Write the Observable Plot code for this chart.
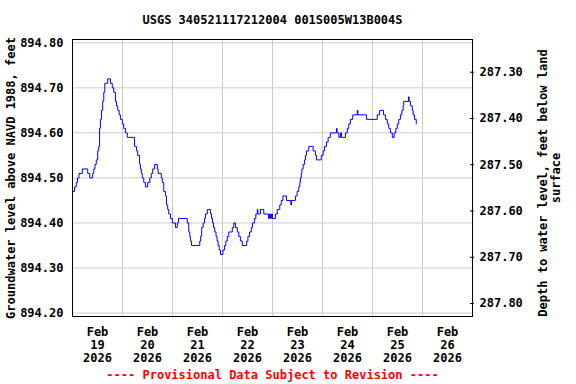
<!DOCTYPE html>
<html>
<head>
<meta charset="utf-8">
<script src="https://cdn.jsdelivr.net/npm/d3@7"></script>
<script src="https://cdn.jsdelivr.net/npm/@observablehq/plot@0.6"></script>
<style>
  html, body { margin: 0; padding: 0; background: #fff; }
  #chart svg { display: block; }
</style>
</head>
<body>
<div id="chart"></div>
<script>
// ---- Data (hours after 2026-02-19 00:00, groundwater level in ft above NAVD 1988) ----
const hours = [
  0, 1.0, 1.8, 2.4, 3.1, 4.7, 7.3, 8.3, 9.7, 10.2, 10.8, 11.4, 12.1, 12.6, 13.0, 13.4, 13.9, 14.5, 15.0, 15.5, 16.9,
  18.2, 19.1, 19.8, 20.6, 21.1, 21.7, 22.4, 23.0, 23.9, 24.6, 25.4, 26.3, 29.8, 30.7, 31.3, 32.2, 32.6, 33.0,
  33.5, 34.2, 35.0, 36.1, 37.1, 37.8, 38.5, 39.4, 40.7, 41.1, 42.6, 43.1, 43.8, 44.6, 45.1, 45.7, 46.2, 47.0,
  47.9, 49.4, 50.3, 50.9, 55.1, 55.8, 56.3, 56.6, 57.1, 61.1, 61.5, 62.0, 62.7, 63.4, 63.8, 64.7, 66.2, 66.7,
  67.2, 67.7, 68.3, 68.9, 69.4, 69.9, 70.4, 71.0, 72.2, 73.0, 73.6, 74.3, 75.0, 76.7, 77.4, 78.2, 79.1, 79.8,
  80.6, 81.5, 83.6, 84.2, 85.0, 85.8, 86.4, 87.4, 88.0, 88.7, 89.0, 90.2, 91.8, 94.1, 94.5, 95.0, 95.5, 96.0,
  97.4, 98.3, 99.5, 100.2, 101.0, 102.7, 104.8, 105.1, 107.0, 107.8, 108.6, 109.1, 109.4, 109.8, 110.1, 110.7,
  111.4, 111.8, 112.3, 113.4, 115.5, 116.6, 117.1, 119.4, 120.3, 121.0, 121.9, 122.7, 123.8, 126.7, 127.0,
  127.8, 128.6, 129.1, 131.0, 131.9, 132.6, 133.4, 134.5, 136.7, 137.0, 141.1, 146.3, 147.4, 149.3, 150.2,
  151.1, 151.8, 152.6, 153.5, 154.4, 155.2, 155.9, 156.6, 157.4, 158.1, 158.7, 159.0, 161.3, 161.6, 162.2,
  163.1, 163.5, 164.2, 165.0
];
const levels = [
  894.47, 894.48, 894.49, 894.50, 894.51, 894.52, 894.51, 894.50, 894.51, 894.52, 894.53, 894.54, 894.56, 894.57, 894.61, 894.63, 894.65, 894.67, 894.69, 894.71, 894.72,
  894.71, 894.70, 894.69, 894.67, 894.66, 894.65, 894.64, 894.63, 894.62, 894.61, 894.60, 894.59, 894.57, 894.56, 894.55, 894.53, 894.52, 894.51,
  894.50, 894.49, 894.48, 894.49, 894.50, 894.51, 894.52, 894.53, 894.52, 894.51, 894.50, 894.49, 894.47, 894.46, 894.44, 894.43, 894.42, 894.41,
  894.40, 894.39, 894.40, 894.41, 894.40, 894.38, 894.37, 894.36, 894.35, 894.36, 894.37, 894.39, 894.40, 894.41, 894.42, 894.43, 894.42, 894.41,
  894.40, 894.39, 894.38, 894.37, 894.36, 894.35, 894.34, 894.33, 894.34, 894.35, 894.36, 894.37, 894.38, 894.39, 894.40, 894.39, 894.38, 894.37,
  894.36, 894.35, 894.36, 894.37, 894.38, 894.39, 894.40, 894.41, 894.42, 894.43, 894.42, 894.43, 894.42, 894.41, 894.42, 894.41, 894.42, 894.41,
  894.42, 894.43, 894.44, 894.45, 894.46, 894.45, 894.44, 894.45, 894.46, 894.47, 894.48, 894.49, 894.50, 894.51, 894.52, 894.53,
  894.54, 894.55, 894.56, 894.57, 894.56, 894.55, 894.54, 894.55, 894.56, 894.57, 894.58, 894.59, 894.60, 894.61, 894.60,
  894.59, 894.60, 894.59, 894.60, 894.61, 894.62, 894.63, 894.64, 894.65, 894.64, 894.63, 894.64, 894.65, 894.64, 894.63,
  894.62, 894.61, 894.60, 894.59, 894.60, 894.61, 894.62, 894.63, 894.64, 894.65, 894.66, 894.67, 894.68, 894.67, 894.66,
  894.65, 894.64, 894.63, 894.62
];

// Axis ticks
const levelTicks = [894.20, 894.30, 894.40, 894.50, 894.60, 894.70, 894.80];
const depthTicks = [287.30, 287.40, 287.50, 287.60, 287.70, 287.80];
const tickDays = [19, 20, 21, 22, 23, 24, 25, 26];
const tickMonth = "Feb";
const tickYear = 2026;
const gridDays = [20, 21, 22, 23, 24, 25, 26];

// Text
const titleText = "USGS 340521117212004 001S005W13B004S";
const leftLabel = "Groundwater level above NAVD 1988, feet";
const rightLabel1 = "Depth to water level, feet below land";
const rightLabel2 = "surface";
const captionText = "---- Provisional Data Subject to Revision ----";

// Depth axis calibration (depth value -> level coordinate on the shared y scale)
const depthAnchor = [[287.30, 894.7347], [287.80, 894.2213]];
const depthToLevel = d => depthAnchor[0][1] + (d - depthAnchor[0][0]) * (depthAnchor[1][1] - depthAnchor[0][1]) / (depthAnchor[1][0] - depthAnchor[0][0]);

const t0 = Date.UTC(2026, 1, 19);
const dayMs = 864e5;
const data = hours.map((h, i) => ({t: new Date(t0 + h * 3600e3), v: levels[i]}));

const font = "DejaVu Sans Mono";
const txt = {fontSize: 12, fontWeight: "bold"};

const chart = Plot.plot({
  width: 576,
  height: 384,
  marginLeft: 72,
  marginRight: 104,
  marginTop: 39,
  marginBottom: 68,
  style: {fontFamily: font, fontSize: "12px", fontWeight: "bold", background: "#fff", color: "#000"},
  x: {type: "utc", domain: [new Date(t0), new Date(t0 + 8 * dayMs)]},
  y: {domain: [894.1924, 894.8073]},
  marks: [
    Plot.ruleX(gridDays, {x: d => new Date(Date.UTC(2026, 1, d)), stroke: "#cccccc", strokeWidth: 1}),
    Plot.ruleY(levelTicks, {stroke: "#cccccc", strokeWidth: 1}),
    Plot.line(data, {x: "t", y: "v", stroke: "#0000ff", strokeWidth: 1, curve: "step-after"}),
    Plot.frame({stroke: "#000", strokeWidth: 1}),
    Plot.axisY(levelTicks, {anchor: "left", tickSize: 0, tickPadding: 9, tickFormat: d => d.toFixed(2), label: null, ...txt}),
    Plot.axisY(depthTicks.map(depthToLevel), {anchor: "right", tickSize: 4, dx: -3, tickFormat: () => "", label: null}),
    Plot.text(depthTicks, {y: depthToLevel, frameAnchor: "right", dx: 7, textAnchor: "start", lineAnchor: "middle", text: d => d.toFixed(2), ...txt}),
    Plot.axisX(tickDays.map(d => new Date(Date.UTC(2026, 1, d, 12))), {
      anchor: "bottom", tickSize: 0, tickPadding: 10, lineHeight: 1.08,
      tickFormat: d => `${tickMonth}\n${d.getUTCDate()}\n${tickYear}`, label: null, ...txt
    }),
    Plot.text([titleText], {text: d => d, frameAnchor: "top", dy: -19, textAnchor: "middle", lineAnchor: "middle", ...txt}),
    Plot.text([captionText], {text: d => d, frameAnchor: "bottom", dy: 59, textAnchor: "middle", lineAnchor: "middle", fill: "#ff0000", ...txt}),
    Plot.text([leftLabel], {text: d => d, frameAnchor: "left", dx: -61, rotate: -90, textAnchor: "middle", lineAnchor: "middle", ...txt}),
    Plot.text([rightLabel1], {text: d => d, frameAnchor: "right", dx: 71, dy: 5, rotate: -90, textAnchor: "middle", lineAnchor: "middle", ...txt}),
    Plot.text([rightLabel2], {text: d => d, frameAnchor: "right", dx: 84, dy: 0, rotate: -90, textAnchor: "middle", lineAnchor: "middle", ...txt})
  ]
});
document.getElementById("chart").appendChild(chart);
</script>
</body>
</html>
